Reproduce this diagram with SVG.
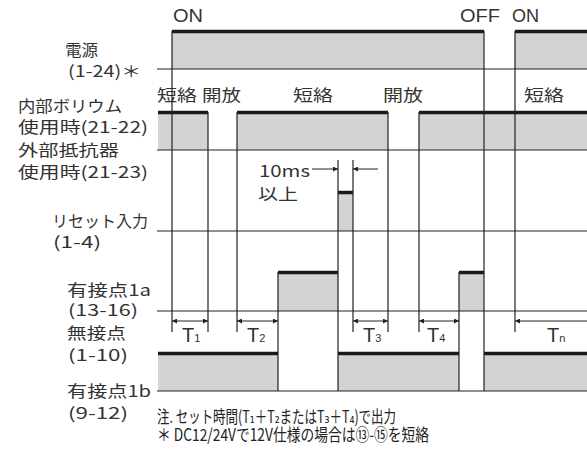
<svg xmlns="http://www.w3.org/2000/svg" width="587" height="461" viewBox="0 0 587 461">
<style>
.bg{fill:#fff}
.fill{fill:#d3d3d3;stroke:none}
.thick{stroke:#1a1a1a;stroke-width:3.5;fill:none}
.thin{stroke:#222;stroke-width:1.2;fill:none}
.arr{stroke:#222;stroke-width:1;fill:none}
.jp{font-family:"Noto Sans CJK JP","Noto Sans",sans-serif;font-size:16px;fill:#333}
.lat{font-family:"Liberation Sans",Arial,sans-serif;font-size:18px;fill:#333}
.t{font-family:"Liberation Sans",Arial,sans-serif;font-size:20px;fill:#333}
.sub{font-size:11px}
.note{font-family:"Noto Sans CJK JP","DejaVu Sans",sans-serif;font-size:17px;fill:#222}
</style>
<defs>
<marker id="ah" viewBox="0 0 10 10" refX="10" refY="5" markerWidth="8" markerHeight="5" markerUnits="userSpaceOnUse" orient="auto-start-reverse">
<path d="M0,0 L10,5 L0,10 Z" fill="#222"/>
</marker>
</defs>
<rect class="bg" x="0" y="0" width="587" height="461"/>

<g id="power">
<rect class="fill" x="172" y="31" width="312" height="38"/>
<rect class="fill" x="515" y="31" width="72" height="38"/>
<path class="thick" d="M172,31.5 H484 M515,31.5 H587"/>
<path class="thin" d="M157,69 H587"/>
<text class="lat" x="173" y="22" textLength="30" lengthAdjust="spacingAndGlyphs">ON</text>
<text class="lat" x="460" y="22" textLength="40" lengthAdjust="spacingAndGlyphs">OFF</text>
<text class="lat" x="512" y="22" textLength="27" lengthAdjust="spacingAndGlyphs">ON</text>
<text class="jp" x="65" y="56" textLength="33" lengthAdjust="spacingAndGlyphs">電源</text>
<text class="jp" x="68" y="77" textLength="73" lengthAdjust="spacingAndGlyphs">(1-24)＊</text>
</g>

<g id="volume">
<rect class="fill" x="158" y="112" width="50" height="38"/>
<rect class="fill" x="237" y="112" width="151" height="38"/>
<rect class="fill" x="419" y="112" width="168" height="38"/>
<path class="thick" d="M158,112.5 H208 M237,112.5 H388 M419,112.5 H587"/>
<path class="thin" d="M157,150 H587"/>
<text class="jp" x="157" y="101" textLength="40" lengthAdjust="spacingAndGlyphs">短絡</text>
<text class="jp" x="202" y="101" textLength="39" lengthAdjust="spacingAndGlyphs">開放</text>
<text class="jp" x="293" y="101" textLength="40" lengthAdjust="spacingAndGlyphs">短絡</text>
<text class="jp" x="383" y="101" textLength="40" lengthAdjust="spacingAndGlyphs">開放</text>
<text class="jp" x="524" y="101" textLength="40" lengthAdjust="spacingAndGlyphs">短絡</text>
<text class="jp" x="18" y="112" textLength="104" lengthAdjust="spacingAndGlyphs">内部ボリウム</text>
<text class="jp" x="18" y="133" textLength="130" lengthAdjust="spacingAndGlyphs">使用時(21-22)</text>
<text class="jp" x="18" y="156" textLength="101" lengthAdjust="spacingAndGlyphs">外部抵抗器</text>
<text class="jp" x="18" y="178" textLength="130" lengthAdjust="spacingAndGlyphs">使用時(21-23)</text>
</g>

<g id="reset">
<rect class="fill" x="338" y="192" width="15" height="39"/>
<path class="thick" d="M338,192.5 H353"/>
<path class="thin" d="M157,231 H587"/>
<text class="jp" x="259" y="177" textLength="51" lengthAdjust="spacingAndGlyphs">10ms</text>
<text class="jp" x="258" y="200" textLength="40" lengthAdjust="spacingAndGlyphs">以上</text>
<text class="jp" x="52" y="227" textLength="96" lengthAdjust="spacingAndGlyphs">リセット入力</text>
<text class="jp" x="53" y="248" textLength="48" lengthAdjust="spacingAndGlyphs">(1-4)</text>
</g>

<g id="contact1a">
<rect class="fill" x="278" y="272" width="60" height="39"/>
<rect class="fill" x="459" y="272" width="25" height="39"/>
<path class="thick" d="M278,272.5 H338 M459,272.5 H484"/>
<path class="thin" d="M157,311 H587"/>
<text class="jp" x="67" y="296" textLength="84" lengthAdjust="spacingAndGlyphs">有接点1a</text>
<text class="jp" x="68" y="316" textLength="70" lengthAdjust="spacingAndGlyphs">(13-16)</text>
<text class="jp" x="67" y="339" textLength="59" lengthAdjust="spacingAndGlyphs">無接点</text>
<text class="jp" x="68" y="361" textLength="60" lengthAdjust="spacingAndGlyphs">(1-10)</text>
</g>

<g id="contact1b">
<rect class="fill" x="158" y="353" width="120" height="38"/>
<rect class="fill" x="338" y="353" width="121" height="38"/>
<rect class="fill" x="484" y="353" width="103" height="38"/>
<path class="thick" d="M158,353.5 H278 M338,353.5 H459 M484,353.5 H587"/>
<path class="thin" d="M157,391 H587"/>
<text class="jp" x="67" y="397" textLength="84" lengthAdjust="spacingAndGlyphs">有接点1b</text>
<text class="jp" x="68" y="419" textLength="60" lengthAdjust="spacingAndGlyphs">(9-12)</text>
</g>

<g id="connectors">
<path class="thin" d="M172,31 V332 M484,31 V391 M515,31 V332 M208,112 V332 M237,112 V332 M388,112 V332 M419,112 V332 M338,160 V391 M353,160 V332 M278,272 V391 M459,272 V391"/>
<path class="arr" d="M312,169 H338" marker-end="url(#ah)"/>
<path class="arr" d="M378,169 H353" marker-end="url(#ah)"/>
<path class="arr" d="M172,321 H208" marker-start="url(#ah)" marker-end="url(#ah)"/>
<path class="arr" d="M237,321 H278" marker-start="url(#ah)" marker-end="url(#ah)"/>
<path class="arr" d="M353,321 H388" marker-start="url(#ah)" marker-end="url(#ah)"/>
<path class="arr" d="M419,321 H459" marker-start="url(#ah)" marker-end="url(#ah)"/>
<path class="arr" d="M587,321 H515" marker-end="url(#ah)"/>
</g>

<g id="labels">
<text class="t" x="182" y="342">T<tspan class="sub">1</tspan></text>
<text class="t" x="247" y="342">T<tspan class="sub">2</tspan></text>
<text class="t" x="363" y="342">T<tspan class="sub">3</tspan></text>
<text class="t" x="427" y="342">T<tspan class="sub">4</tspan></text>
<text class="t" x="547" y="342">T<tspan class="sub">n</tspan></text>
<text class="note" x="157" y="423" textLength="239" lengthAdjust="spacingAndGlyphs">注. セット時間(T₁＋T₂またはT₃＋T₄)で出力</text>
<text class="note" x="157" y="441" textLength="272" lengthAdjust="spacingAndGlyphs">＊ DC12/24Vで12V仕様の場合は⑬-⑮を短絡</text>
</g>
</svg>
